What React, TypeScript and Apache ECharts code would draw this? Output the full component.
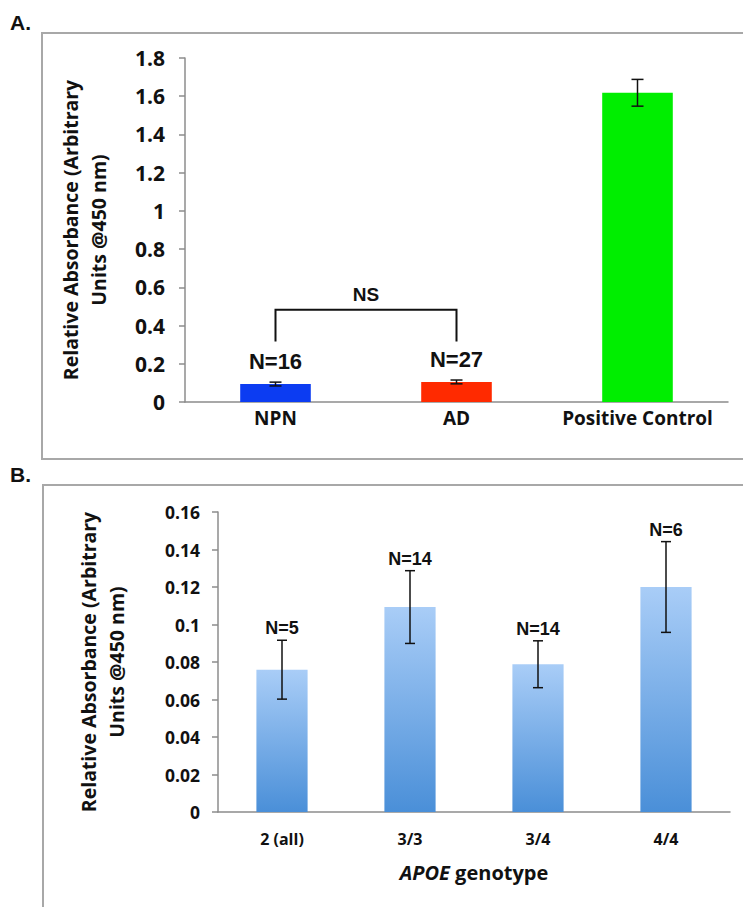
import React, { useEffect, useRef } from "react";
import * as echarts from "echarts";

// Panel A data
const catsA = ["NPN", "AD", "Positive Control"];
const valsA = [0.094, 0.105, 1.618];
const errA = [0.01, 0.01, 0.07];
const colorsA = ["#0c3cf2", "#ff2a00", "#00ee00"];
const nLabelsA = ["N=16", "N=27", ""];
const ticksA = { min: 0, max: 1.8, interval: 0.2 };
// bracket levels (data units)
const bracketTop = 0.483;
const bracketBottom = 0.316;
const bracketText = "NS";

// Panel B data
const catsB = ["2 (all)", "3/3", "3/4", "4/4"];
const valsB = [0.0759, 0.1093, 0.0788, 0.12];
const errB = [0.0157, 0.0194, 0.0125, 0.0242];
const nLabelsB = ["N=5", "N=14", "N=14", "N=6"];
const ticksB = { min: 0, max: 0.16, interval: 0.02 };

const yName = "Relative Absorbance (Arbitrary\nUnits @450 nm)";
const tickFont = "'Open Sans', 'DejaVu Sans', sans-serif";
const nFont = "'Liberation Sans', Arial, sans-serif";

export default function App() {
  const ref = useRef<HTMLDivElement>(null);
  useEffect(() => {
    if (!ref.current) return;
    const chart = echarts.init(ref.current, undefined, { renderer: "svg" });

    const errRender = (err: number[], labels: string[], fontSize: number, labelGap: number, capW: number) =>
      (params: any, api: any) => {
        const idx = api.value(0);
        const v = api.value(1);
        const e = err[idx];
        const top = api.coord([idx, v + e]);
        const bot = api.coord([idx, v - e]);
        const x = top[0];
        const children: any[] = [
          { type: "line", shape: { x1: x, y1: top[1], x2: x, y2: bot[1] }, style: { stroke: "#111", lineWidth: 1.5 } },
          { type: "line", shape: { x1: x - capW, y1: top[1], x2: x + capW, y2: top[1] }, style: { stroke: "#111", lineWidth: 1.5 } },
          { type: "line", shape: { x1: x - capW, y1: bot[1], x2: x + capW, y2: bot[1] }, style: { stroke: "#111", lineWidth: 1.5 } },
        ];
        if (labels[idx]) {
          children.push({
            type: "text",
            style: {
              x,
              y: top[1] - labelGap,
              text: labels[idx],
              align: "center",
              verticalAlign: "bottom",
              font: `bold ${fontSize}px ${nFont}`,
              fill: "#111",
            },
          });
        }
        return { type: "group", children };
      };

    const gradient = new echarts.graphic.LinearGradient(0, 0, 0, 1, [
      { offset: 0, color: "#a9cdf7" },
      { offset: 1, color: "#4a8fd8" },
    ]);

    const axisLineStyle = { color: "#8c8c8c", width: 1.5 };

    const option: any = {
      animation: false,
      backgroundColor: "#ffffff",
      grid: [
        { left: 185, top: 58, right: 15, bottom: 505 },
        { left: 218, top: 512, right: 13, bottom: 95 },
      ],
      xAxis: [
        {
          type: "category",
          gridIndex: 0,
          data: catsA,
          axisLine: { lineStyle: axisLineStyle },
          axisTick: { length: 5, lineStyle: axisLineStyle },
          axisLabel: { interval: 0, color: "#111", fontFamily: tickFont, fontWeight: "bold", fontSize: 19, margin: 6 },
        },
        {
          type: "category",
          gridIndex: 1,
          data: catsB,
          name: "{i|APOE} genotype",
          nameLocation: "middle",
          nameGap: 50,
          nameTextStyle: {
            color: "#111",
            fontFamily: tickFont,
            fontWeight: "bold",
            fontSize: 20,
            rich: { i: { fontStyle: "italic", fontFamily: tickFont, fontWeight: "bold", fontSize: 20, color: "#111" } },
          },
          axisLine: { lineStyle: axisLineStyle },
          axisTick: { length: 5, lineStyle: axisLineStyle },
          axisLabel: { interval: 0, color: "#111", fontFamily: tickFont, fontWeight: "bold", fontSize: 16, margin: 19 },
        },
      ],
      yAxis: [
        {
          type: "value",
          gridIndex: 0,
          min: ticksA.min,
          max: ticksA.max,
          interval: ticksA.interval,
          name: yName,
          nameLocation: "middle",
          nameRotate: 90,
          nameGap: 73,
          nameTextStyle: { color: "#111", fontFamily: tickFont, fontWeight: "bold", fontSize: 19.5, lineHeight: 28 },
          axisLine: { show: true, lineStyle: axisLineStyle },
          axisTick: { show: true, length: 6, lineStyle: axisLineStyle },
          splitLine: { show: false },
          axisLabel: { color: "#111", fontFamily: tickFont, fontWeight: "bold", fontSize: 21, margin: 20 },
        },
        {
          type: "value",
          gridIndex: 1,
          min: ticksB.min,
          max: ticksB.max,
          interval: ticksB.interval,
          name: yName,
          nameLocation: "middle",
          nameRotate: 90,
          nameGap: 88,
          nameTextStyle: { color: "#111", fontFamily: tickFont, fontWeight: "bold", fontSize: 19.5, lineHeight: 28 },
          axisLine: { show: true, lineStyle: axisLineStyle },
          axisTick: { show: true, length: 6, lineStyle: axisLineStyle },
          splitLine: { show: false },
          axisLabel: { color: "#111", fontFamily: tickFont, fontWeight: "bold", fontSize: 17.5, margin: 18 },
        },
      ],
      series: [
        {
          type: "bar",
          xAxisIndex: 0,
          yAxisIndex: 0,
          barWidth: "39%",
          data: valsA.map((v, i) => ({ value: v, itemStyle: { color: colorsA[i] } })),
        },
        {
          type: "custom",
          xAxisIndex: 0,
          yAxisIndex: 0,
          data: valsA.map((v, i) => [i, v]),
          renderItem: errRender(errA, nLabelsA, 22, 10, 6),
          z: 5,
        },
        {
          type: "custom",
          xAxisIndex: 0,
          yAxisIndex: 0,
          data: [[0, bracketTop, bracketBottom]],
          renderItem: (params: any, api: any) => {
            const a = api.coord([0, bracketTop]);
            const b = api.coord([1, bracketTop]);
            const a2 = api.coord([0, bracketBottom]);
            const midX = (a[0] + b[0]) / 2;
            return {
              type: "group",
              children: [
                {
                  type: "polyline",
                  shape: { points: [[a[0], a2[1]], [a[0], a[1]], [b[0], b[1]], [b[0], a2[1]]] },
                  style: { stroke: "#111", lineWidth: 2, fill: "none" },
                },
                {
                  type: "text",
                  style: {
                    x: midX,
                    y: a[1] - 6,
                    text: bracketText,
                    align: "center",
                    verticalAlign: "bottom",
                    font: `bold 19px ${nFont}`,
                    fill: "#111",
                  },
                },
              ],
            };
          },
          z: 5,
        },
        {
          type: "bar",
          xAxisIndex: 1,
          yAxisIndex: 1,
          barWidth: "40%",
          data: valsB,
          itemStyle: { color: gradient },
        },
        {
          type: "custom",
          xAxisIndex: 1,
          yAxisIndex: 1,
          data: valsB.map((v, i) => [i, v]),
          renderItem: errRender(errB, nLabelsB, 18, 3, 5),
          z: 5,
        },
      ],
      graphic: [
        {
          type: "rect",
          shape: { x: 42, y: 33, width: 740, height: 426 },
          style: { fill: "none", stroke: "#a8a8a8", lineWidth: 2 },
          silent: true,
        },
        {
          type: "rect",
          shape: { x: 43, y: 485, width: 740, height: 460 },
          style: { fill: "none", stroke: "#a8a8a8", lineWidth: 2 },
          silent: true,
        },
        {
          type: "text",
          left: 10,
          top: 12,
          style: { text: "A.", font: `bold 21px ${nFont}`, fill: "#111" },
        },
        {
          type: "text",
          left: 10,
          top: 464,
          style: { text: "B.", font: `bold 21px ${nFont}`, fill: "#111" },
        },
      ],
    };

    chart.setOption(option);
    return () => chart.dispose();
  }, []);

  return (
    <div
      ref={ref}
      style={{ position: "fixed", left: 0, top: 0, width: 743, height: 907, background: "#fff" }}
    />
  );
}
